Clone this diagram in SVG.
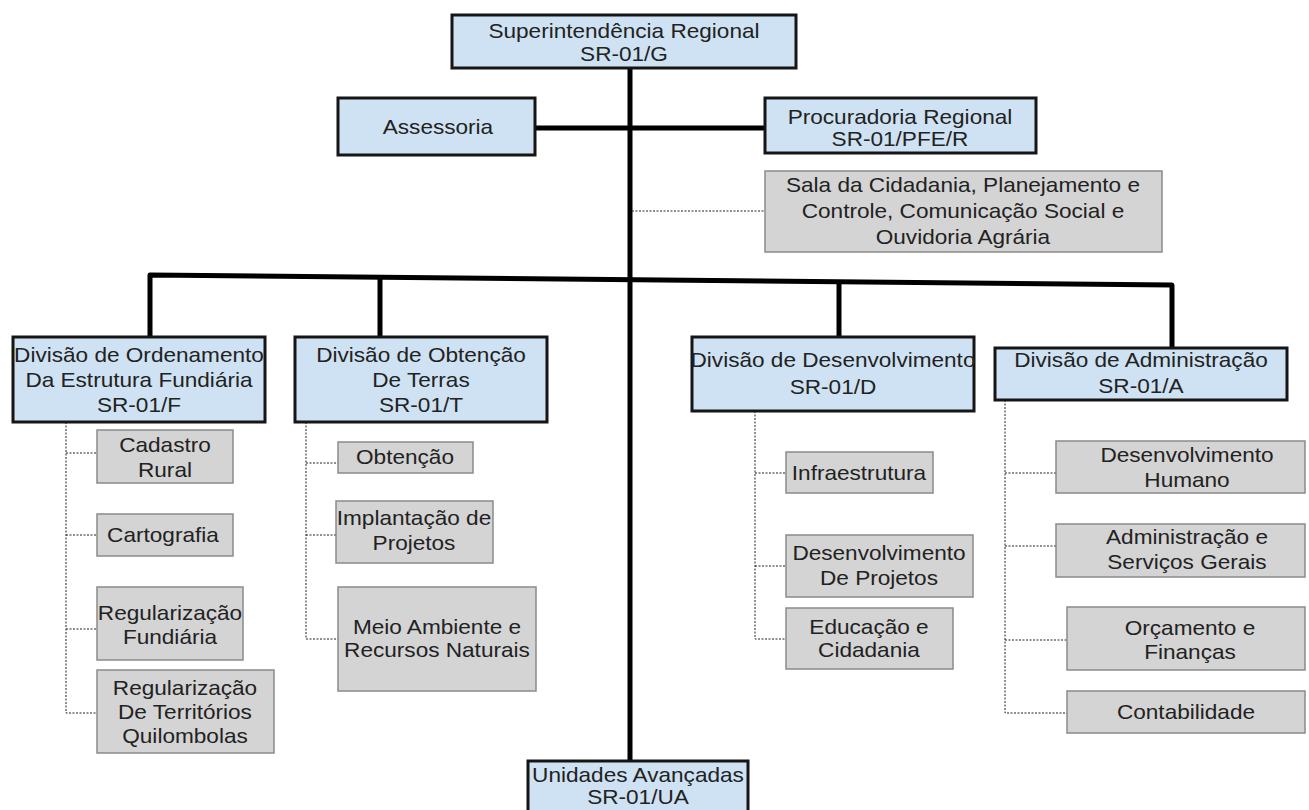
<svg xmlns="http://www.w3.org/2000/svg" width="1309" height="810" viewBox="0 0 1309 810">
<style>
.blue{fill:#cfe2f3;stroke:#151515;stroke-width:3}
.gray{fill:#d4d4d4;stroke:#8a8a8a;stroke-width:1.5}
.t{font-family:"Liberation Sans",Arial,sans-serif;font-size:21px;fill:#222;text-anchor:middle;transform-box:fill-box;transform-origin:center;transform:scaleX(1.076)}
.thick{stroke:#000;stroke-width:5;fill:none;stroke-linejoin:round}
.dot{stroke:#222;stroke-width:1;stroke-dasharray:2 1.5;fill:none}
</style>
<rect width="1309" height="810" fill="#fff"/>
<g id="connectors">
<line class="thick" x1="630" y1="68" x2="630" y2="761"/>
<line class="thick" x1="535" y1="128" x2="765" y2="128"/>
<polyline class="thick" points="150,337 150,275 1172,285 1172,348"/>
<line class="thick" x1="380" y1="277" x2="380" y2="337"/>
<line class="thick" x1="839" y1="282" x2="839" y2="337"/>
<line class="dot" x1="632" y1="211" x2="765" y2="211"/>
<polyline class="dot" points="66,422 66,713 97,713"/>
<line class="dot" x1="66" y1="453" x2="97" y2="453"/>
<line class="dot" x1="66" y1="535" x2="97" y2="535"/>
<line class="dot" x1="66" y1="629" x2="97" y2="629"/>
<polyline class="dot" points="306,422 306,639 338,639"/>
<line class="dot" x1="306" y1="463" x2="338" y2="463"/>
<line class="dot" x1="306" y1="535" x2="336" y2="535"/>
<polyline class="dot" points="755,411 755,639 786,639"/>
<line class="dot" x1="755" y1="473" x2="786" y2="473"/>
<line class="dot" x1="755" y1="566" x2="786" y2="566"/>
<polyline class="dot" points="1005,400 1005,713 1067,713"/>
<line class="dot" x1="1005" y1="473" x2="1056" y2="473"/>
<line class="dot" x1="1005" y1="546" x2="1056" y2="546"/>
<line class="dot" x1="1005" y1="640" x2="1067" y2="640"/>
</g>
<g id="sr01g"><rect class="blue" x="452" y="15" width="344" height="53"/><text class="t" x="624" y="38">Superintendência Regional</text><text class="t" x="624" y="61">SR-01/G</text></g>
<g id="assessoria"><rect class="blue" x="338" y="98" width="197" height="57"/><text class="t" x="438" y="134">Assessoria</text></g>
<g id="procuradoria"><rect class="blue" x="765" y="98" width="271" height="55"/><text class="t" x="900" y="124">Procuradoria Regional</text><text class="t" x="900" y="146">SR-01/PFE/R</text></g>
<g id="sala"><rect class="gray" x="765" y="171" width="397" height="81"/><text class="t" x="963" y="192">Sala da Cidadania, Planejamento e</text><text class="t" x="963" y="218">Controle, Comunicação Social e</text><text class="t" x="963" y="244">Ouvidoria Agrária</text></g>
<g id="divF"><rect class="blue" x="13" y="337" width="252" height="85"/><text class="t" x="139" y="362">Divisão de Ordenamento</text><text class="t" x="139" y="387">Da Estrutura Fundiária</text><text class="t" x="139" y="412">SR-01/F</text></g>
<g id="divT"><rect class="blue" x="295" y="337" width="252" height="85"/><text class="t" x="421" y="362">Divisão de Obtenção</text><text class="t" x="421" y="387">De Terras</text><text class="t" x="421" y="412">SR-01/T</text></g>
<g id="divD"><rect class="blue" x="692" y="337" width="282" height="74"/><text class="t" x="833" y="367">Divisão de Desenvolvimento</text><text class="t" x="833" y="394">SR-01/D</text></g>
<g id="divA"><rect class="blue" x="995" y="348" width="292" height="52"/><text class="t" x="1141" y="367">Divisão de Administração</text><text class="t" x="1141" y="393">SR-01/A</text></g>
<g id="ua"><rect class="blue" x="528" y="761" width="220" height="60"/><text class="t" x="638" y="782">Unidades Avançadas</text><text class="t" x="638" y="804">SR-01/UA</text></g>
<g id="cadastro"><rect class="gray" x="97" y="430" width="136" height="53"/><text class="t" x="165" y="452">Cadastro</text><text class="t" x="165" y="477">Rural</text></g>
<g id="cartografia"><rect class="gray" x="97" y="514" width="136" height="42"/><text class="t" x="163" y="542">Cartografia</text></g>
<g id="regfund"><rect class="gray" x="97" y="587" width="146" height="73"/><text class="t" x="170" y="620">Regularização</text><text class="t" x="170" y="644">Fundiária</text></g>
<g id="quilombolas"><rect class="gray" x="97" y="670" width="177" height="83"/><text class="t" x="185" y="695">Regularização</text><text class="t" x="185" y="719">De Territórios</text><text class="t" x="185" y="743">Quilombolas</text></g>
<g id="obtencao"><rect class="gray" x="338" y="442" width="135" height="31"/><text class="t" x="405" y="464">Obtenção</text></g>
<g id="implantacao"><rect class="gray" x="336" y="501" width="157" height="62"/><text class="t" x="414" y="525">Implantação de</text><text class="t" x="414" y="550">Projetos</text></g>
<g id="meio"><rect class="gray" x="338" y="587" width="198" height="104"/><text class="t" x="437" y="634">Meio Ambiente e</text><text class="t" x="437" y="657">Recursos Naturais</text></g>
<g id="infra"><rect class="gray" x="786" y="452" width="147" height="41"/><text class="t" x="859" y="480">Infraestrutura</text></g>
<g id="desproj"><rect class="gray" x="786" y="535" width="187" height="62"/><text class="t" x="879" y="560">Desenvolvimento</text><text class="t" x="879" y="585">De Projetos</text></g>
<g id="educacao"><rect class="gray" x="786" y="608" width="167" height="61"/><text class="t" x="869" y="634">Educação e</text><text class="t" x="869" y="657">Cidadania</text></g>
<g id="deshum"><rect class="gray" x="1056" y="441" width="249" height="52"/><text class="t" x="1187" y="462">Desenvolvimento</text><text class="t" x="1187" y="487">Humano</text></g>
<g id="admserv"><rect class="gray" x="1056" y="524" width="249" height="53"/><text class="t" x="1187" y="544">Administração e</text><text class="t" x="1187" y="569">Serviços Gerais</text></g>
<g id="orcamento"><rect class="gray" x="1067" y="607" width="238" height="63"/><text class="t" x="1190" y="635">Orçamento e</text><text class="t" x="1190" y="659">Finanças</text></g>
<g id="contabilidade"><rect class="gray" x="1067" y="691" width="238" height="42"/><text class="t" x="1186" y="719">Contabilidade</text></g>
</svg>
